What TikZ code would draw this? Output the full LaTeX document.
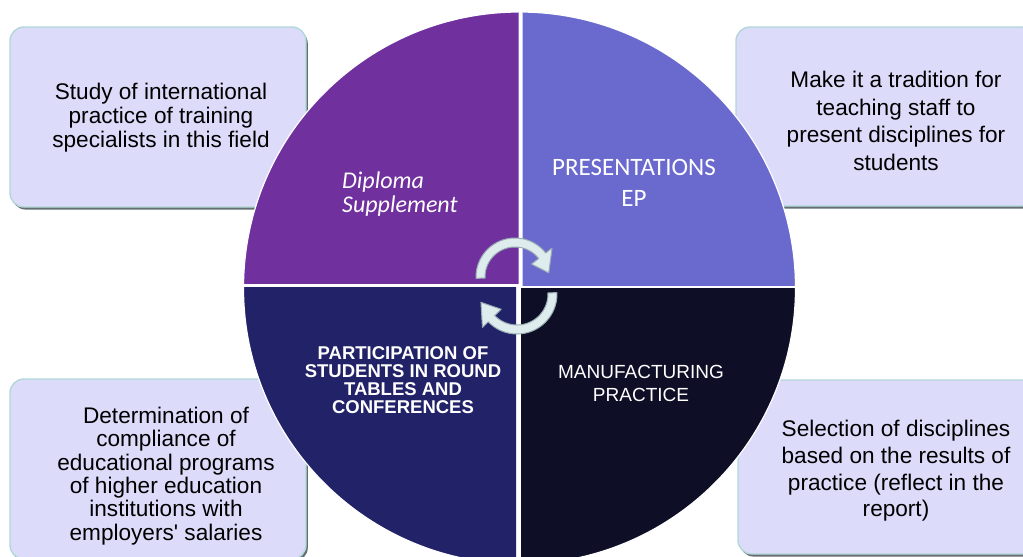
\documentclass[tikz,border=0pt]{standalone}
\usepackage{fontspec}
\setmainfont{Liberation Sans}
\newfontfamily\calf{Carlito}
\newcommand\sqmark{\XeTeXglyph\XeTeXcharglyph"27\relax}
\definecolor{boxfill}{RGB}{220,220,250}
\definecolor{boxedge}{RGB}{178,215,215}
\definecolor{boxshadow}{RGB}{100,110,115}
\definecolor{qTL}{RGB}{112,48,158}
\definecolor{qTR}{RGB}{106,106,206}
\definecolor{qBL}{RGB}{34,34,104}
\definecolor{qBR}{RGB}{14,14,38}
\definecolor{arrfill}{RGB}{222,236,238}
\definecolor{arredge}{RGB}{150,172,178}
\begin{document}
\begin{tikzpicture}[x=1pt,y=-1pt,
  infobox/.style={rectangle, rounded corners=14pt, fill=boxfill, draw=boxedge, line width=1.4pt,
    preaction={fill=boxshadow, transform canvas={shift={(1.8pt,-2.6pt)}}}},
  boxtext/.style={align=center, text=black, inner sep=0pt},
  quadtext/.style={align=center, text=white, inner sep=0pt},
  cyclearrow/.style={fill=arrfill, draw=arredge, line width=1pt, line join=round}]
\useasboundingbox (0,0) rectangle (1023,557);
\clip (0,0) rectangle (1023,557);
% boxes
\node[infobox, minimum width=296pt, minimum height=180pt] (boxTL) at (158,117) {};
\node[infobox, minimum width=300pt, minimum height=179pt] (boxTR) at (886,116.5) {};
\node[infobox, minimum width=296pt, minimum height=180pt] (boxBL) at (158,469) {};
\node[infobox, minimum width=300pt, minimum height=174pt] (boxBR) at (888,467) {};
% pie quadrants
\begin{scope}
  \clip (0,0) rectangle (518.5,283.5);
  \fill[qTL, draw=white, line width=1.2pt] (519.5,288) circle[radius=276pt];
\end{scope}
\begin{scope}
  \clip (522.5,0) rectangle (1023,285);
  \fill[qTR, draw=white, line width=1.2pt] (519.5,288) circle[radius=276pt];
\end{scope}
\begin{scope}
  \clip (0,287.5) rectangle (516,600);
  \fill[qBL, draw=white, line width=1.2pt] (519.5,288) circle[radius=276pt];
\end{scope}
\begin{scope}
  \clip (521,288.5) rectangle (1023,600);
  \fill[qBR, draw=white, line width=1.2pt] (519.5,288) circle[radius=276pt];
\end{scope}
% cycle arrows
\draw[cyclearrow] plot[domain=178:322, samples=40] ({515+39*cos(\x)},{277+39*sin(\x)})
  -- ({515+47*cos(322)},{277+47*sin(322)})
  -- ({515+34*cos(353)},{277+34*sin(353)})
  -- ({515+21*cos(322)},{277+21*sin(322)})
  -- plot[domain=322:178, samples=40] ({515+30*cos(\x)},{277+30*sin(\x)}) -- cycle;
\draw[cyclearrow] plot[domain=-2:136, samples=40] ({517+40*cos(\x)},{294+40*sin(\x)})
  -- ({517+48*cos(136)},{294+48*sin(136)})
  -- ({517+37*cos(167)},{294+37*sin(167)})
  -- ({517+22*cos(136)},{294+22*sin(136)})
  -- plot[domain=136:-2, samples=40] ({517+31*cos(\x)},{294+31*sin(\x)}) -- cycle;
% quadrant texts
\node[quadtext, align=left, anchor=west, font=\calf\itshape\fontsize{24}{23.5}\selectfont] (tDS) at (342,194) {Diploma\\Supplement};
\node[quadtext, font=\calf\fontsize{25}{31}\selectfont] (tPR) at (634,183) {PRESENTATIONS\\EP};
\node[quadtext, font=\bfseries\fontsize{18.5}{17.9}\selectfont] (tPA) at (403,380) {PARTICIPATION OF\\STUDENTS IN ROUND\\TABLES AND\\CONFERENCES};
\node[quadtext, font=\fontsize{19}{23}\selectfont] (tMP) at (641,383) {MANUFACTURING\\PRACTICE};
% box texts
\node[boxtext, font=\fontsize{22.6}{24}\selectfont] (tTL) at (161,118) {Study of international\\practice of training\\specialists in this field};
\node[boxtext, font=\fontsize{22.6}{27.5}\selectfont] (tTR) at (896,121) {Make it a tradition for\\teaching staff to\\present disciplines for\\students};
\node[boxtext, font=\fontsize{22.6}{23.4}\selectfont] (tBL) at (166,476) {Determination of\\compliance of\\educational programs\\of higher education\\institutions with\\employers\sqmark{} salaries};
\node[boxtext, font=\fontsize{22.6}{26.7}\selectfont] (tBR) at (896,471) {Selection of disciplines\\based on the results of\\practice (reflect in the\\report)};
\end{tikzpicture}
\end{document}
